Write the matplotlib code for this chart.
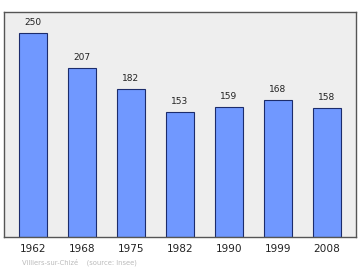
import matplotlib
matplotlib.use("Agg")
import matplotlib.pyplot as plt

years = ["1962", "1968", "1975", "1982", "1990", "1999", "2008"]
population = [250, 207, 182, 153, 159, 168, 158]

fig = plt.figure(figsize=(3.6, 2.7), dpi=100)
fig.patch.set_facecolor("white")
W, H = 360, 270
ax = fig.add_axes([4 / W, 1 - 237 / H, 352 / W, 225 / H])
ax.set_facecolor("#eeeeee")

x = list(range(len(years)))
ax.bar(x, population, width=0.57, color="#7098ff", edgecolor="#1c2c6c", linewidth=0.8, zorder=2)
for xi, v in zip(x, population):
    ax.annotate(str(v), (xi, v), xytext=(0, 10.5 * 72 / 100), textcoords="offset points",
                ha="center", va="center", fontsize=6.5, color="#222222")

ax.set_xlim(-0.59, 6.59)
ax.set_ylim(0, 276)
ax.set_yticks([])
ax.set_xticks(x)
ax.set_xticklabels(years, fontsize=7.6, color="#222222")
ax.tick_params(axis="x", length=0, pad=5)
for s in ax.spines.values():
    s.set_color("#555555")
    s.set_linewidth(1.0)

fig.text(22 / W, 1 - 262 / H, "Villiers-sur-Chizé    (source: Insee)", fontsize=4.9,
         color="#bbbbbb", ha="left", va="center")

fig.savefig("out.png", dpi=100)
